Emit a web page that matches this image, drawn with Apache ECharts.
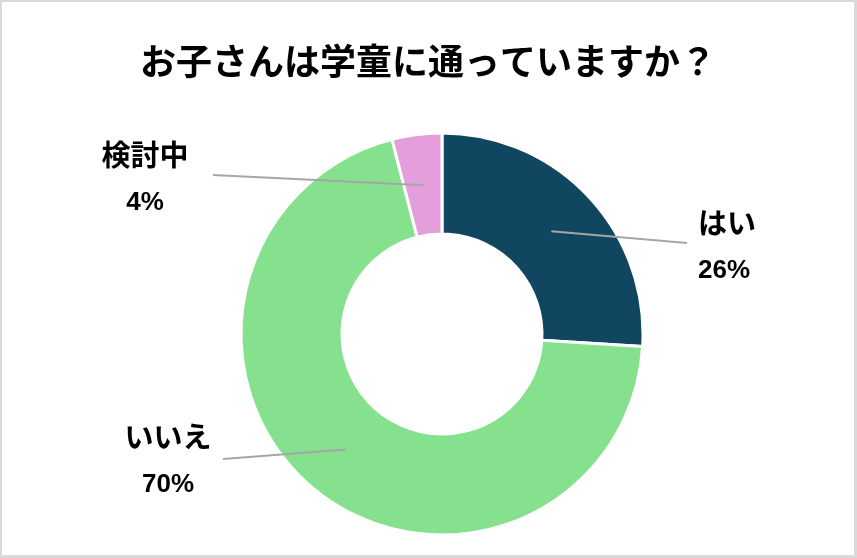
<!DOCTYPE html>
<html>
<head>
<meta charset="utf-8">
<script src="https://cdn.jsdelivr.net/npm/echarts@6/dist/echarts.min.js"></script>
<style>
  html, body { margin: 0; padding: 0; background: #fff; }
  #chart {
    width: 857px;
    height: 558px;
    box-sizing: border-box;
    border: 3px solid #d9d9d9;
    border-top-width: 2px;
    border-left-width: 2px;
  }
</style>
</head>
<body>
<div id="chart"></div>
<script>
const titleText = "お子さんは学童に通っていますか？";
const categories = ["はい", "いいえ", "検討中"];
const values = [26, 70, 4];
const colors = ["#10465f", "#86e18f", "#e49edb"];

// where each label block sits and where its leader line ends (chart coords, inside the border)
const labelAnchors = [
  { x: 696, y: 246, align: "left", lineEnd: [685, 241] },
  { x: 166, y: 460, align: "center", lineEnd: [221, 457] },
  { x: 143, y: 178, align: "center", lineEnd: [211, 173] }
];

const center = [440, 332];
const labelFont = { fontFamily: "'Liberation Sans', 'Noto Sans CJK JP', sans-serif", fontWeight: "bold", color: "#000" };

const pieData = categories.map((name, i) => ({
  name: name,
  value: values[i],
  itemStyle: { color: colors[i] }
}));

const chart = echarts.init(document.getElementById("chart"), null, { renderer: "canvas" });
chart.setOption({
  backgroundColor: "#fff",
  animation: false,
  title: {
    text: titleText,
    left: "center",
    top: 36,
    textStyle: {
      fontFamily: "'Noto Sans CJK JP', sans-serif",
      fontWeight: "bold",
      fontSize: 36,
      color: "#000"
    }
  },
  series: [
    {
      // the visible ring
      type: "pie",
      z: 2,
      center: center,
      radius: [100, 201],
      startAngle: 90,
      clockwise: true,
      silent: true,
      label: { show: false },
      labelLine: { show: false },
      itemStyle: { borderColor: "#fff", borderWidth: 3 },
      data: pieData
    },
    {
      // transparent overlay whose edge sits mid-ring, so the leader lines start inside the slices
      type: "pie",
      z: 5,
      center: center,
      radius: [0, 150],
      startAngle: 90,
      clockwise: true,
      silent: true,
      percentPrecision: 0,
      itemStyle: { color: "rgba(0,0,0,0)" },
      label: {
        show: true,
        position: "outside",
        formatter: "{n|{b}}\n{p|{d}%}",
        ...labelFont,
        rich: {
          n: { fontSize: 29, lineHeight: 45, ...labelFont },
          p: { fontSize: 26, lineHeight: 45, ...labelFont }
        }
      },
      labelLine: {
        show: true,
        length: 10,
        length2: 10,
        lineStyle: { color: "#a6a6a6", width: 2 }
      },
      labelLayout: params => {
        const anchor = labelAnchors[params.dataIndex];
        const start = params.labelLinePoints ? params.labelLinePoints[0] : anchor.lineEnd;
        return {
          x: anchor.x,
          y: anchor.y,
          align: anchor.align,
          verticalAlign: "middle",
          labelLinePoints: [start, anchor.lineEnd]
        };
      },
      data: categories.map((name, i) => ({ name: name, value: values[i] }))
    }
  ]
});
</script>
</body>
</html>
